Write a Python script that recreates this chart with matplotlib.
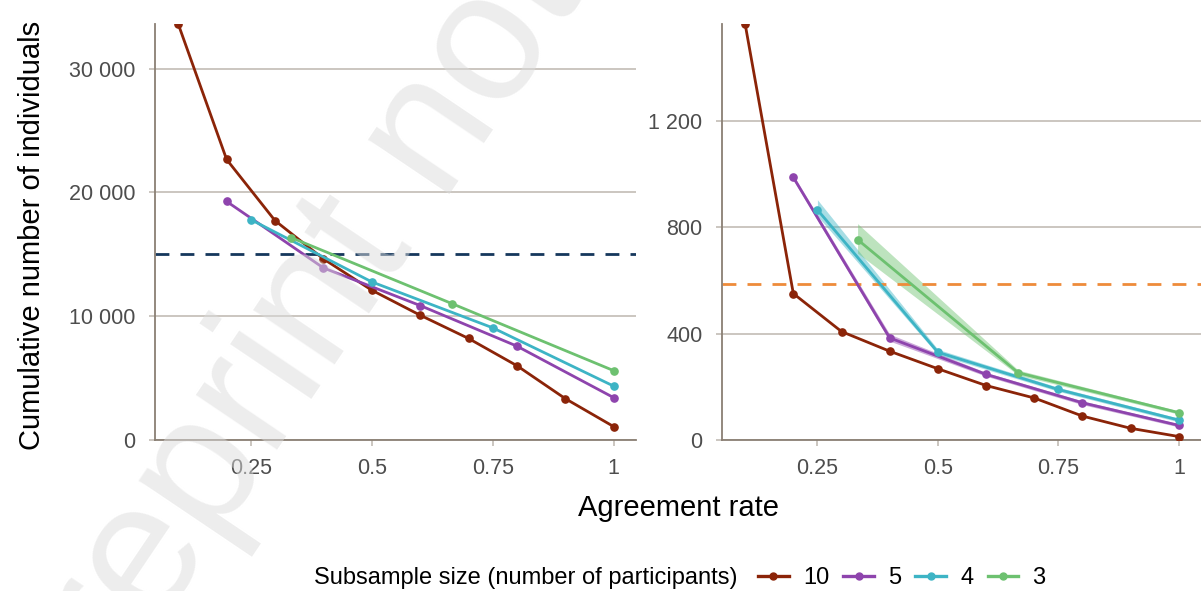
import matplotlib
matplotlib.use("Agg")
import matplotlib.pyplot as plt
from matplotlib.lines import Line2D

plt.rcParams["font.family"] = ["Liberation Sans", "DejaVu Sans"]

# ── data ──────────────────────────────────────────────────────────────────────
sizes = ["10", "5", "4", "3"]
x10 = [0.1, 0.2, 0.3, 0.4, 0.5, 0.6, 0.7, 0.8, 0.9, 1.0]
x5 = [0.2, 0.4, 0.6, 0.8, 1.0]
x4 = [0.25, 0.5, 0.75, 1.0]
x3 = [1 / 3, 2 / 3, 1.0]

# left panel: all individuals
left10 = [33600, 22660, 17720, 14630, 12100, 10080, 8200, 6000, 3340, 1080]
left5 = [19270, 13900, 10860, 7580, 3420]
left4 = [17800, 12770, 9060, 4350]
left3 = [16350, 11000, 5600]
left_ref = 15000

# right panel: subset, with min/max band
right10 = [1565, 551, 408, 334, 268, 205, 158, 90, 44, 13]
right5 = [988, 384, 247, 140, 55]
right5_lo = [978, 372, 240, 133, 49]
right5_hi = [997, 398, 254, 147, 61]
right4 = [866, 330, 190, 75]
right4_lo = [843, 321, 183, 68]
right4_hi = [904, 341, 198, 82]
right3 = [754, 253, 103]
right3_lo = [703, 244, 97]
right3_hi = [814, 263, 109]
right_ref = 585

COLORS = {"10": "#8B2408", "5": "#8E44AD", "4": "#3DB4C5", "3": "#6DC170"}
GRID = "#BDB7AF"
SPINE = "#8A7F74"
TICK_TXT = "#4D4D4D"


def _style(ax, ymax, yticks, ylabels):
    ax.set_xlim(0.052, 1.046)
    ax.set_ylim(0, ymax)
    ax.set_xticks([0.25, 0.5, 0.75, 1.0])
    ax.set_xticklabels(["0.25", "0.5", "0.75", "1"])
    ax.set_yticks(yticks)
    ax.set_yticklabels(ylabels)
    for s in ("top", "right"):
        ax.spines[s].set_visible(False)
    for s in ("left", "bottom"):
        ax.spines[s].set_color(SPINE)
        ax.spines[s].set_linewidth(1.3)
    ax.yaxis.grid(True, color=GRID, linewidth=1.1)
    ax.set_axisbelow(True)
    ax.tick_params(axis="both", colors=GRID, labelcolor=TICK_TXT,
                   labelsize=15.5, length=4, width=1.1)
    ax.tick_params(axis="x", pad=9)
    ax.tick_params(axis="y", pad=10)


def _series(ax, x, y, key, lo=None, hi=None):
    c = COLORS[key]
    if lo is not None:
        ax.fill_between(x, lo, hi, color=c, alpha=0.45, linewidth=0, zorder=2)
    ax.plot(x, y, color=c, linewidth=2.0, marker="o", markersize=5.2, zorder=3)


fig = plt.figure(figsize=(12.01, 5.91), dpi=100)

ax1 = fig.add_axes([155 / 1201, 1 - 440 / 591, 481 / 1201, 416 / 591])
ax2 = fig.add_axes([722 / 1201, 1 - 440 / 591, 479 / 1201, 416 / 591])

_style(ax1, 33600, [0, 10000, 20000, 30000], ["0", "10 000", "20 000", "30 000"])
_style(ax2, 1565, [0, 400, 800, 1200], ["0", "400", "800", "1 200"])

ax1.axhline(left_ref, color="#15375C", linewidth=2.0, dashes=(5, 4), zorder=2.5)
_series(ax1, x10, left10, "10")
_series(ax1, x5, left5, "5")
_series(ax1, x4, left4, "4")
_series(ax1, x3, left3, "3")

ax2.axhline(right_ref, color="#EE8B3A", linewidth=2.0, dashes=(5, 4), zorder=2.5)
_series(ax2, x10, right10, "10")
_series(ax2, x5, right5, "5", right5_lo, right5_hi)
_series(ax2, x4, right4, "4", right4_lo, right4_hi)
_series(ax2, x3, right3, "3", right3_lo, right3_hi)

fig.text(32 / 1201, 1 - 235 / 591, "Cumulative number of individuals",
         rotation=90, ha="center", va="center", fontsize=21, color="black")
fig.text(679 / 1201, 1 - 508 / 591, "Agreement rate",
         ha="center", va="center", fontsize=21, color="black")

# legend: title inline on the left, entries to its right
fig.text(737 / 1201, 1 - 578 / 591, "Subsample size (number of participants)",
         ha="right", va="center", fontsize=17, color="black")
handles = [Line2D([], [], color=COLORS[k], linewidth=2.4, marker="o", markersize=5)
           for k in sizes]
fig.legend(handles, sizes, loc="center left", ncol=4,
           bbox_to_anchor=(758 / 1201, 1 - 578 / 591), frameon=False,
           fontsize=17, handlelength=1.3, handletextpad=0.6,
           columnspacing=0.6, borderpad=0, borderaxespad=0)

# translucent watermark laid over the whole figure
fig.text(0.044, -0.325, "Preprint not peer reviewed", rotation=56,
         rotation_mode="anchor", ha="left", va="baseline", fontsize=133,
         color="#DCDCDC", alpha=0.5, zorder=10)

fig.savefig("out.png", dpi=100, facecolor="white")
